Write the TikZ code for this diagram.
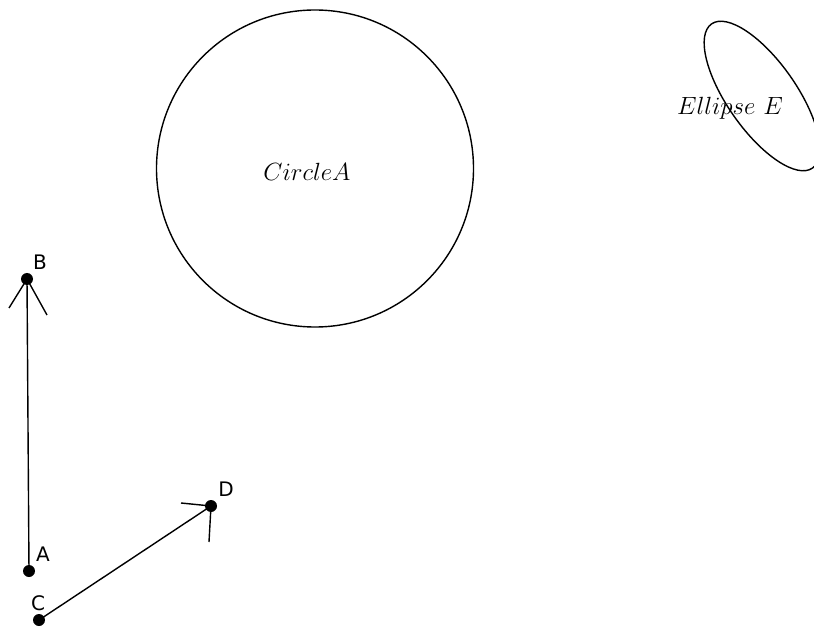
\documentclass[tikz,border=0pt]{standalone}
\usepackage{fontspec}
\newfontfamily\lblfont{DejaVu Sans}
\begin{document}
\begin{tikzpicture}[x=1pt,y=-1pt,
  dot/.style={circle,fill=black,inner sep=0pt,minimum size=12pt},
  lbl/.style={font=\lblfont\fontsize{20}{24}\selectfont,inner sep=0pt},
  mathlbl/.style={font=\fontsize{26}{30}\selectfont,inner sep=0pt},
  conn/.style={line width=1.4pt},
  barb/.style={line width=1.4pt}]
\useasboundingbox (0,0) rectangle (814,628);
\clip (0,0) rectangle (814,628);
% circle
\node[circle,draw,line width=1.4pt,minimum size=317pt,inner sep=0pt] (circA) at (315,168.5) {};
\node[mathlbl] (circAlbl) at (307,172) {$CircleA$};
% ellipse
\draw[line width=1.4pt,rotate around={-55:(762,96)}] (762,96) ellipse [x radius=88, y radius=34.5];
\node[mathlbl] (ellLbl) at (730,108) {$Ellipse\ E$};
% points
\node[dot] (B) at (27,279) {};
\node[dot] (A) at (29,571) {};
\node[dot] (C) at (39,620) {};
\node[dot] (D) at (211,506) {};
\node[lbl] (Bl) at (40,262) {B};
\node[lbl] (Al) at (43,554) {A};
\node[lbl] (Cl) at (38,603) {C};
\node[lbl] (Dl) at (226,489) {D};
% connectors
\draw[conn] (A.center) -- (B.center);
\draw[conn] (C.center) -- (D.center);
\coordinate (b1) at (9,308);
\coordinate (b2) at (47,315);
\coordinate (d1) at (181,503);
\coordinate (d2) at (209,542);
\draw[barb] (b1) -- (B.center) -- (b2);
\draw[barb] (d1) -- (D.center) -- (d2);
\end{tikzpicture}
\end{document}
